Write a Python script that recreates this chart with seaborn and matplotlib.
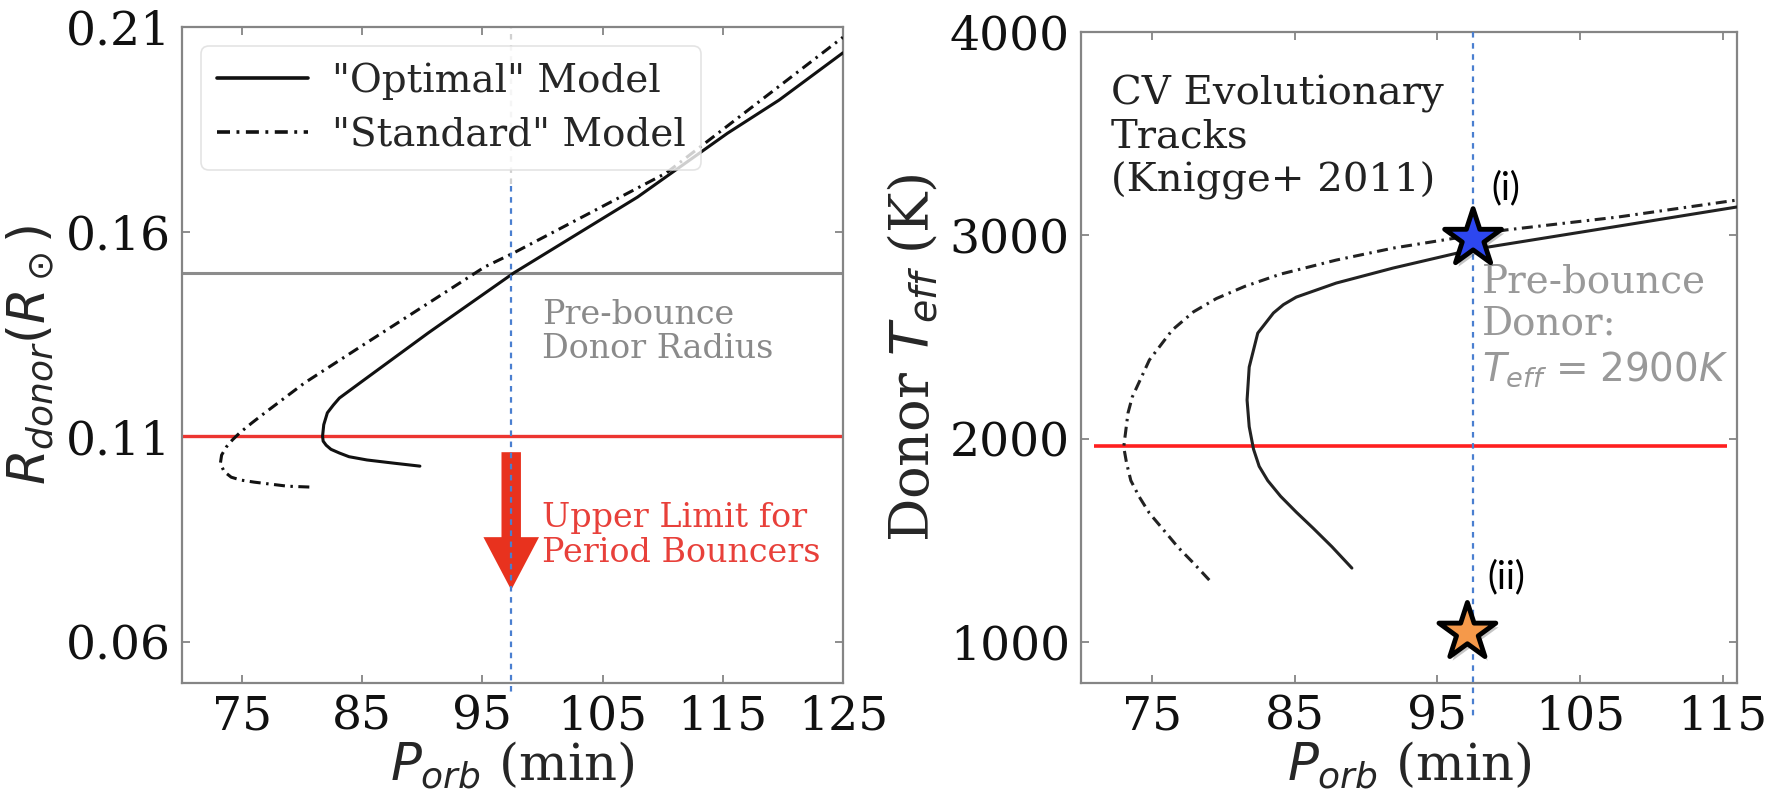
import numpy as np
import pandas as pd
import matplotlib
matplotlib.use("Agg")
import matplotlib.pyplot as plt
import matplotlib.patheffects as pe
from matplotlib.lines import Line2D
import seaborn as sns

# ---------------- data ----------------
# Left panel: donor radius vs orbital period
opt_P = [89.8, 87.7, 85.4, 83.9, 83.1, 82.4, 82.0, 81.75, 81.7, 81.8, 82.1, 82.6, 83.1, 85.0,
         90.5, 97.6, 107.9, 115.4, 119.7, 125.0]
opt_R = [0.1029, 0.1036, 0.1044, 0.1052, 0.1061, 0.1070, 0.1080, 0.1090, 0.1102, 0.1130, 0.1159,
         0.1178, 0.1195, 0.1236, 0.1354, 0.1500, 0.1685, 0.1841, 0.1922, 0.2037]
std_P = [80.6, 78.8, 76.0, 74.9, 74.1, 73.5, 73.2, 73.3, 73.7, 74.2, 74.8, 75.8, 76.9, 80.2,
         85.0, 90.0, 95.2, 97.6, 110.3, 125.0]
std_R = [0.0978, 0.0980, 0.0990, 0.0995, 0.1002, 0.1016, 0.1036, 0.1056, 0.1076, 0.1093, 0.1110,
         0.1134, 0.1159, 0.1232, 0.1323, 0.1417, 0.1515, 0.1549, 0.1744, 0.2075]

# Right panel: donor Teff vs orbital period
T_opt_P = [89.0, 87.6, 86.3, 85.1, 84.0, 83.1, 82.5, 82.1, 81.8, 81.65, 81.8, 82.4, 83.5, 84.2,
           85.1, 87.9, 91.9, 97.4, 107.7, 116.0]
T_opt_T = [1365, 1470, 1560, 1640, 1718, 1795, 1865, 1950, 2060, 2191, 2353, 2520, 2619, 2660,
           2697, 2766, 2840, 2930, 3046, 3140]
T_std_P = [79.0, 77.9, 76.8, 75.8, 74.8, 74.1, 73.5, 73.2, 73.0, 73.3, 73.6, 74.8, 76.4, 77.9,
           79.5, 81.5, 84.0, 87.9, 91.9, 99.8, 107.7, 116.0]
T_std_T = [1306, 1389, 1468, 1552, 1635, 1714, 1795, 1881, 1960, 2127, 2206, 2388, 2535, 2625,
           2690, 2750, 2810, 2879, 2938, 3027, 3091, 3174]

legend_labels = ['"Optimal" Model', '"Standard" Model']

R_prebounce = 0.150
R_limit = 0.1102
T_limit = 1965
P_target = 97.4
star_P = [97.5, 97.1]
star_T = [2985, 1049]
star_labels = ["(i)", "(ii)"]
star_colors = ["#2d47f0", "#f5994a"]

left_xticks = [75, 85, 95, 105, 115, 125]
left_yticks = [0.06, 0.11, 0.16, 0.21]
right_xticks = [75, 85, 95, 105, 115]
right_yticks = [1000, 2000, 3000, 4000]

# ---------------- style ----------------
sns.set_theme(style="ticks")
plt.rcParams["font.family"] = ["DejaVu Serif"]
plt.rcParams["mathtext.fontset"] = "dejavusans"

SPINE = "#858585"
DASHDOT = (0, (3.6, 1.8, 0.8, 1.8))
BLUE = "#4a7fd0"

fig = plt.figure(figsize=(17.7, 7.93), dpi=100)
axL = fig.add_axes([0.1028, 0.1387, 0.3734, 0.8272])
axR = fig.add_axes([0.6107, 0.1387, 0.3706, 0.8209])

for ax in (axL, axR):
    for s in ax.spines.values():
        s.set_color(SPINE)
        s.set_linewidth(1.6)
    ax.tick_params(direction="in", length=6, width=1.3, color=SPINE,
                   top=True, right=True, labelsize=34, pad=8,
                   labelcolor="#111111")

# ---------------- left panel ----------------
axL.axvline(P_target, ymin=0.76, ymax=1.0, color="#d0d0d0", lw=1.6,
            ls=(0, (2.5, 2.5)), zorder=1)
sns.lineplot(x=opt_P, y=opt_R, sort=False, estimator=None, color="#111111",
             linewidth=2.2, ax=axL, zorder=3)
sns.lineplot(x=std_P, y=std_R, sort=False, estimator=None, color="#111111",
             linewidth=2.2, linestyle=DASHDOT, ax=axL, zorder=3)
axL.axhline(R_prebounce, color="#8c8c8c", lw=2.2, zorder=2)
axL.axhline(R_limit, color="#ec3530", lw=2.4, zorder=2)

axL.annotate("", xy=(P_target, 0.0727), xytext=(P_target, 0.1063),
             arrowprops=dict(arrowstyle="simple,head_length=38,head_width=40,tail_width=14",
                             mutation_scale=1, color="#e8321e", shrinkA=0, shrinkB=0,
                             lw=0),
             zorder=4)
axL.plot([P_target, P_target], [0.1712, 0.0478], color=BLUE, lw=1.6,
         ls=(0, (2.5, 2.5)), clip_on=False, zorder=5)

axL.text(100.0, 0.1437, "Pre-bounce\nDonor Radius", color="#8a8a8a",
         fontsize=24, va="top", ha="left", linespacing=1.1)
axL.text(100.0, 0.0941, "Upper Limit for\nPeriod Bouncers", color="#e8403a",
         fontsize=24, va="top", ha="left", linespacing=1.1)

axL.set_xlim(70, 125)
axL.set_ylim(0.05, 0.21)
axL.set_xticks(left_xticks)
axL.set_yticks(left_yticks)
axL.set_yticklabels([f"{v:.2f}" for v in left_yticks])
axL.set_xlabel(r"$P_{orb}$ (min)", fontsize=37, labelpad=0)
axL.set_ylabel(r"$R_{donor}(R_\odot)$", fontsize=37)
axL.yaxis.set_label_coords(-0.19, 0.5)

handles = [Line2D([], [], color="#111111", lw=2.6),
           Line2D([], [], color="#111111", lw=2.6, ls=DASHDOT)]
leg = axL.legend(handles, legend_labels, loc="upper left", fontsize=28,
                 handlelength=2.35, handletextpad=0.6, borderpad=0.4,
                 labelspacing=0.45, fancybox=True, framealpha=0.8,
                 edgecolor="#dddddd")
leg.get_frame().set_linewidth(1.2)
leg.set_zorder(6)

# ---------------- right panel ----------------
sns.lineplot(x=T_opt_P, y=T_opt_T, sort=False, estimator=None, color="#222222",
             linewidth=2.2, ax=axR, zorder=3)
sns.lineplot(x=T_std_P, y=T_std_T, sort=False, estimator=None, color="#222222",
             linewidth=2.2, linestyle=DASHDOT, ax=axR, zorder=3)
axR.hlines(T_limit, 70.9, 115.3, color="#ff1f1f", lw=2.6, zorder=2)
axR.plot([97.5, 97.5], [4000, 632], color=BLUE, lw=1.6, ls=(0, (2.5, 2.5)),
         clip_on=False, zorder=4)

shadow = [pe.SimplePatchShadow(offset=(2, -3), shadow_rgbFace=(0.25, 0.25, 0.25),
                               alpha=0.3), pe.Normal()]
n_before = len(axR.collections)
sns.scatterplot(x=star_P, y=star_T, marker="*", s=1850, hue=star_labels,
                palette=star_colors, edgecolor="black", linewidth=3.5,
                legend=False, ax=axR, zorder=6)
for coll in axR.collections[n_before:]:
    coll.set_path_effects(shadow)
    coll.set_clip_on(False)

for lab, ty in zip(star_labels, [3233, 1321]):
    axR.text(99.8, ty, lab, fontsize=27, family=["Lato", "DejaVu Sans"],
             ha="center", va="center", color="black")

axR.text(72.1, 3789, "CV Evolutionary\nTracks\n(Knigge+ 2011)", color="#222222",
         fontsize=29, va="top", ha="left", linespacing=1.2)
axR.text(98.1, 2864, "Pre-bounce\nDonor:\n" + r"$T_{eff}$ = $2900K$", color="#999999",
         fontsize=28, va="top", ha="left", linespacing=1.2)

axR.set_xlim(70, 116)
axR.set_ylim(800, 4000)
axR.set_xticks(right_xticks)
axR.set_yticks(right_yticks)
axR.set_xlabel(r"$P_{orb}$ (min)", fontsize=37, labelpad=0)
axR.set_ylabel(r"Donor $T_{eff}$ (K)", fontsize=39)
axR.yaxis.set_label_coords(-0.215, 0.5)

fig.savefig("out.png", dpi=100)
